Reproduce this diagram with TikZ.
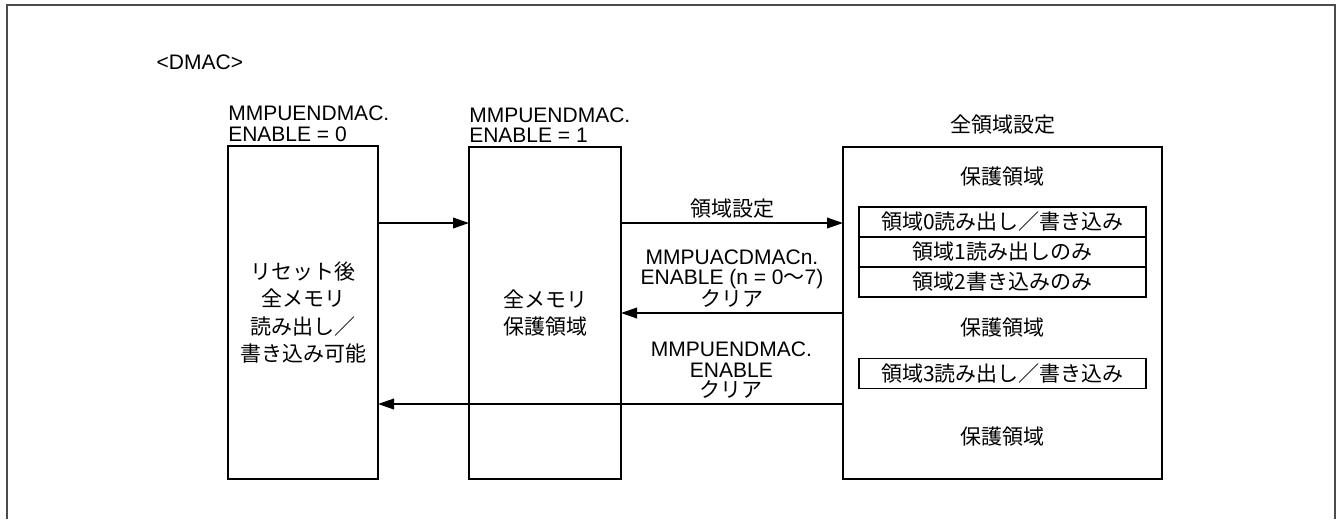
\documentclass[tikz,border=0pt]{standalone}
\usepackage{fontspec}
\setmainfont{Liberation Sans}
\newfontfamily\jp{Noto Sans CJK JP}
\usetikzlibrary{positioning, arrows.meta}

\tikzset{
    jptext/.style={font=\jp\fontsize{15.75}{15}\selectfont},
    state/.style={draw, line width=1.1pt, inner sep=0pt, outer sep=0pt, align=center,
                  font=\jp\fontsize{15.75}{20.6}\selectfont},
    area/.style={jptext, draw, line width=1.1pt, minimum width=215.25pt, minimum height=22.5pt,
                 inner sep=0pt, outer sep=0pt},
    arr/.style={line width=1.1pt, -{Triangle[length=12pt, width=8pt]}}
}

\begin{document}
\begin{tikzpicture}[x=0.75pt, y=-0.75pt, font=\fontsize{15.75}{15.5}\selectfont]
\useasboundingbox (0,0) rectangle (1343,519);
% frame, open at the bottom
\draw[line width=1.2pt, black!70] (7,519) -- (7,5) -- (1335,5) -- (1335,519);

\node[anchor=west] (dmac) at (152,62) {<DMAC>};

% states
\node[state, minimum width=112.5pt, minimum height=249.75pt] (reset) at (303,312.5) {リセット後\\全メモリ\\読み出し／\\書き込み可能};
\node[state, minimum width=114pt, minimum height=249pt] (prot) at (545,313) {全メモリ\\保護領域};
\node[state, minimum width=239.25pt, minimum height=249pt] (areas) at (1002.5,313) {};

\node[above right=3pt and 0pt of reset.north west, inner sep=0pt, align=left] (en0) {MMPUENDMAC.\\ENABLE = 0};
\node[above right=3pt and 0pt of prot.north west, inner sep=0pt, align=left] (en1) {MMPUENDMAC.\\ENABLE = 1};
\node[jptext] (all) at (1002.5,125) {全領域設定};

% protected areas
\node[jptext] (p0) at (1002.5,177) {保護領域};
\node[area] (a0) at (1002.5,222) {領域0読み出し／書き込み};
\node[area, below=0pt of a0] (a1) {領域1読み出しのみ};
\node[area, below=0pt of a1] (a2) {領域2書き込みのみ};
\node[jptext] (p1) at (1002.5,328) {保護領域};
\node[area] (a3) at (1002.5,373.5) {領域3読み出し／書き込み};
\node[jptext] (p2) at (1002.5,437) {保護領域};

% transitions
\coordinate (y1) at (0,223);
\coordinate (y2) at (0,313);
\coordinate (y3) at (0,404);
\draw[arr] (reset.east |- y1) -- (prot.west |- y1);
\draw[arr] (prot.east |- y1) -- node[above, jptext] {領域設定} (areas.west |- y1);
\draw[arr] (areas.west |- y2) -- node[above, align=center, font=\fontsize{15.75}{15}\selectfont]
    {MMPUACDMACn.\\ENABLE (n = 0{\jp 〜}7)\\{\jp クリア}} (prot.east |- y2);
\draw[arr] (areas.west |- y3) -- node[above, pos=0.24, align=center]
    {MMPUENDMAC.\\ENABLE\\{\jp クリア}} (reset.east |- y3);
\end{tikzpicture}
\end{document}
